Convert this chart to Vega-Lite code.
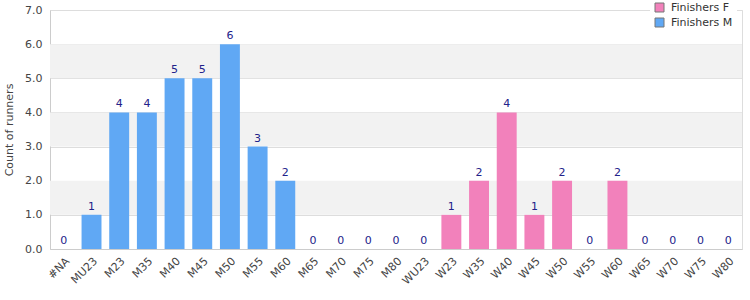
{
  "$schema": "https://vega.github.io/schema/vega-lite/v6.json",
  "autosize": "none",
  "width": 692,
  "height": 239,
  "padding": {"left": 50, "top": 10, "right": 8, "bottom": 51},
  "background": "white",
  "config": {
    "font": "DejaVu Sans",
    "view": {"stroke": "#dddddd"}
  },
  "datasets": {
    "bars": [
      {"cat": "#NA", "n": 0, "series": "Finishers M"},
      {"cat": "MU23", "n": 1, "series": "Finishers M"},
      {"cat": "M23", "n": 4, "series": "Finishers M"},
      {"cat": "M35", "n": 4, "series": "Finishers M"},
      {"cat": "M40", "n": 5, "series": "Finishers M"},
      {"cat": "M45", "n": 5, "series": "Finishers M"},
      {"cat": "M50", "n": 6, "series": "Finishers M"},
      {"cat": "M55", "n": 3, "series": "Finishers M"},
      {"cat": "M60", "n": 2, "series": "Finishers M"},
      {"cat": "M65", "n": 0, "series": "Finishers M"},
      {"cat": "M70", "n": 0, "series": "Finishers M"},
      {"cat": "M75", "n": 0, "series": "Finishers M"},
      {"cat": "M80", "n": 0, "series": "Finishers M"},
      {"cat": "WU23", "n": 0, "series": "Finishers F"},
      {"cat": "W23", "n": 1, "series": "Finishers F"},
      {"cat": "W35", "n": 2, "series": "Finishers F"},
      {"cat": "W40", "n": 4, "series": "Finishers F"},
      {"cat": "W45", "n": 1, "series": "Finishers F"},
      {"cat": "W50", "n": 2, "series": "Finishers F"},
      {"cat": "W55", "n": 0, "series": "Finishers F"},
      {"cat": "W60", "n": 2, "series": "Finishers F"},
      {"cat": "W65", "n": 0, "series": "Finishers F"},
      {"cat": "W70", "n": 0, "series": "Finishers F"},
      {"cat": "W75", "n": 0, "series": "Finishers F"},
      {"cat": "W80", "n": 0, "series": "Finishers F"}
    ],
    "bands": [
      {"lo": 1, "hi": 2},
      {"lo": 3, "hi": 4},
      {"lo": 5, "hi": 6}
    ]
  },
  "encoding": {
    "y": {"field": "n", "type": "quantitative", "scale": {"domain": [0, 7]},
          "axis": {"title": "Count of runners", "titleFontSize": 11, "titleFontWeight": "normal", "titleColor": "#444444",
                   "values": [0, 1, 2, 3, 4, 5, 6, 7], "format": ".1f", "labelOverlap": false, "labelFontSize": 11,
                   "labelColor": "#444444", "gridColor": "#dddddd", "domainColor": "#cccccc", "ticks": false,
                   "labelPadding": 8, "titlePadding": 10}}
  },
  "layer": [
    {
      "data": {"name": "bands"},
      "mark": {"type": "rect", "color": "#f2f2f2"},
      "encoding": {
        "y": {"field": "lo", "type": "quantitative", "title": "Count of runners"},
        "y2": {"field": "hi"}
      }
    },
    {
      "data": {"name": "bars"},
      "mark": {"type": "bar"},
      "encoding": {
        "x": {"field": "cat", "type": "nominal", "sort": null,
              "scale": {"paddingInner": 0.28, "paddingOuter": 0.14},
              "axis": {"title": null, "labelAngle": -45, "labelFontSize": 11, "labelColor": "#444444",
                       "domainColor": "#cccccc", "ticks": false, "labelPadding": 6}},
        "color": {"field": "series", "type": "nominal",
                  "scale": {"domain": ["Finishers F", "Finishers M"], "range": ["#f281bb", "#60a8f4"]},
                  "legend": {"title": null, "orient": "none", "legendX": 600, "legendY": -12, "symbolType": "square", "symbolSize": 81,
                             "symbolStrokeColor": "#777777", "symbolStrokeWidth": 1, "labelFontSize": 11, "labelColor": "#333333",
                             "fillColor": "white", "strokeColor": null, "padding": 4, "rowPadding": 2, "labelOffset": 6}}
      }
    },
    {
      "data": {"name": "bars"},
      "mark": {"type": "text", "dy": -8, "fontSize": 11, "color": "#22228a"},
      "encoding": {
        "x": {"field": "cat", "type": "nominal", "sort": null},
        "text": {"field": "n", "type": "quantitative"}
      }
    }
  ]
}
